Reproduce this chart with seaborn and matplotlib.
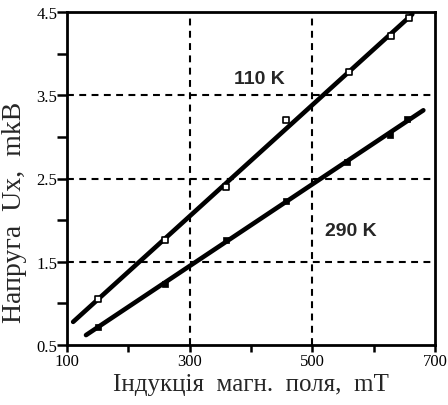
import numpy as np
import pandas as pd
import matplotlib
matplotlib.use("Agg")
import matplotlib.pyplot as plt
import seaborn as sns

# Data
x_110 = [150, 260, 360, 457, 560, 628, 658]
y_110 = [1.05, 1.76, 2.40, 3.20, 3.78, 4.21, 4.43]
x_290 = [150, 260, 360, 457, 557, 626, 655]
y_290 = [0.72, 1.23, 1.76, 2.23, 2.70, 3.02, 3.22]
fit_range_110 = [110, 663]
fit_range_290 = [131, 681]
x_ticks = [100, 200, 300, 400, 500, 600, 700]
x_tick_labels = ["100", "", "300", "", "500", "", "700"]
y_ticks = [0.5, 1.0, 1.5, 2.0, 2.5, 3.0, 3.5, 4.0, 4.5]
y_tick_labels = ["0.5", "", "1.5", "", "2.5", "", "3.5", "", "4.5"]
grid_x = [300, 500]
grid_y = [1.5, 2.5, 3.5]
labels = ["110 K", "290 K"]
label_pos = [(414, 3.70), (562, 1.88)]

sns.set_style("ticks")
plt.rcParams['font.family'] = ['Liberation Serif', 'DejaVu Serif']

fig = plt.figure(figsize=(4.48, 4.06), dpi=100)
ax = fig.add_axes([67/448, 60/406, 368/448, 333/406])

for gx in grid_x:
    ax.axvline(gx, color="black", lw=1.5, ls=(0, (3.3, 2.6)), zorder=1)
for gy in grid_y:
    ax.axhline(gy, color="black", lw=1.5, ls=(0, (3.3, 2.6)), zorder=1)

for xs, ys, rng in [(x_110, y_110, fit_range_110), (x_290, y_290, fit_range_290)]:
    k, b = np.polyfit(xs, ys, 1)
    fx = np.array(rng, dtype=float)
    fit_df = pd.DataFrame({"x": fx, "y": k * fx + b})
    sns.lineplot(data=fit_df, x="x", y="y", ax=ax, color="black", lw=3.3, zorder=3)

df110 = pd.DataFrame({"x": x_110, "y": y_110})
df290 = pd.DataFrame({"x": x_290, "y": y_290})
sns.scatterplot(data=df110, x="x", y="y", ax=ax, marker="s", s=17,
                facecolor="white", edgecolor="black", linewidth=1.2, zorder=4)
sns.scatterplot(data=df290, x="x", y="y", ax=ax, marker="s", s=14,
                color="black", edgecolor="black", linewidth=0.5, zorder=4)

for t, (tx, ty) in zip(labels, label_pos):
    ax.text(tx, ty, t, ha="center", va="center", fontsize=14, fontweight="bold",
            family=["Liberation Sans", "DejaVu Sans"])

ax.set_xlim(100, 700)
ax.set_ylim(0.5, 4.5)
ax.set_xticks(x_ticks)
ax.set_xticklabels(x_tick_labels)
ax.set_yticks(y_ticks)
ax.set_yticklabels(y_tick_labels)
ax.tick_params(direction="out", width=1.8, labelsize=12, pad=1, colors="black")
ax.tick_params(axis="x", length=5)
ax.tick_params(axis="y", length=7, pad=0)
for sp in ax.spines.values():
    sp.set_visible(True)
    sp.set_linewidth(2)
    sp.set_color("black")

ax.set_xlabel("Індукція  магн.  поля,  mT", fontsize=18, labelpad=3)
ax.set_ylabel("Напруга  Ux,  mkB", fontsize=20)
ax.yaxis.set_label_coords(-0.108, 0.40)

fig.savefig("out.png", dpi=100)
